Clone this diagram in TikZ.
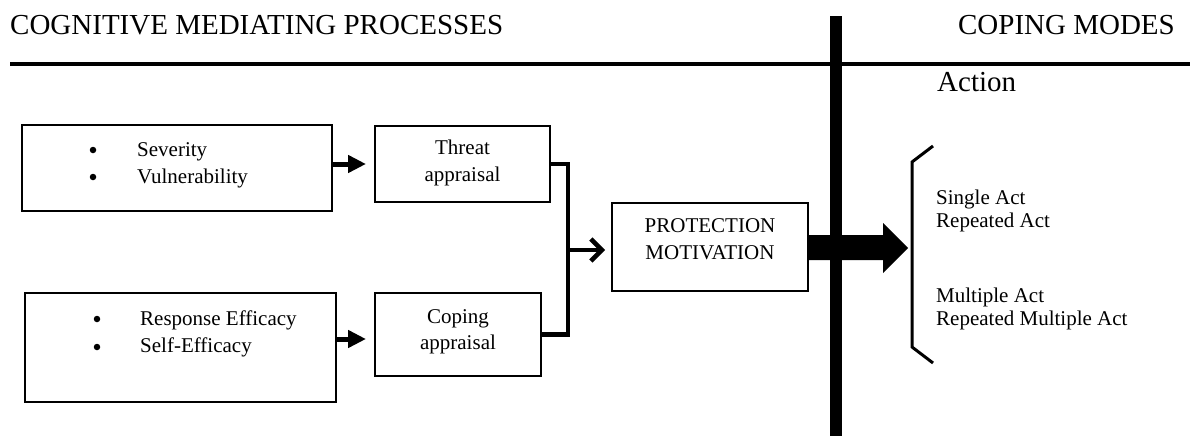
\documentclass[tikz,border=0pt]{standalone}
\usepackage{fontspec}
\setmainfont{Liberation Serif}
\usetikzlibrary{arrows.meta}
\begin{document}
\begin{tikzpicture}[x=1pt,y=-1pt,
  box/.style={draw, line width=2pt, inner sep=0pt, outer sep=0pt},
  body/.style={font=\fontsize{21}{27}\selectfont, inner sep=0pt, anchor=base},
  bodyw/.style={body, anchor=base west},
  head/.style={font=\fontsize{29}{34}\selectfont, inner sep=0pt},
  dot/.style={circle, fill, inner sep=0pt, minimum size=6.5pt},
  feed/.style={line width=5pt, -{Triangle[length=18pt,width=17pt]}, shorten >=9pt},
  link/.style={line width=4.5pt, line join=miter},
  mergearrow/.style={line width=4.5pt, -{Straight Barb[length=11pt,width=22pt]}, shorten >=7pt},
]
\useasboundingbox (0,0) rectangle (1190,436);

% headings and rules
\node[head, anchor=base west] (cmp) at (10,35) {COGNITIVE MEDIATING PROCESSES};
\node[head, anchor=base east] (cm) at (1175,35) {COPING MODES};
\draw[line width=3.5pt] (10,64) -- (1190,64);
\fill (830,16) rectangle (842,436);
\node[head, anchor=base west] (act) at (937,91) {Action};

% boxes
\node[box, minimum width=310pt, minimum height=86pt] (risk) at (177,168) {};
\node[box, minimum width=175pt, minimum height=76pt] (threat) at (462.5,164) {};
\node[box, minimum width=311pt, minimum height=109pt] (eff) at (180.5,347.5) {};
\node[box, minimum width=166pt, minimum height=83pt] (coping) at (458,334.5) {};
\node[box, minimum width=196pt, minimum height=88pt] (pm) at (710,247) {};

% box texts
\node[dot] (b1) at (93,150) {};
\node[dot] (b2) at (93,177) {};
\node[bodyw] (sev) at (137,156) {Severity};
\node[bodyw] (vul) at (137,183) {Vulnerability};
\node[dot] (b3) at (97,319) {};
\node[dot] (b4) at (97,347) {};
\node[bodyw] (re) at (140,325) {Response Efficacy};
\node[bodyw] (se) at (140,352) {Self-Efficacy};
\node[body] (t1) at (462.5,154) {Threat};
\node[body] (t2) at (462.5,181) {appraisal};
\node[body] (c1) at (458,323) {Coping};
\node[body] (c2) at (458,349) {appraisal};
\node[body] (p1) at (710,232) {PROTECTION};
\node[body] (p2) at (710,259) {MOTIVATION};

% coping modes list
\node[bodyw] (m1) at (936,204) {Single Act};
\node[bodyw] (m2) at (936,227) {Repeated Act};
\node[bodyw] (m3) at (936,302) {Multiple Act};
\node[bodyw] (m4) at (936,325) {Repeated Multiple Act};
\draw[line width=3pt] (933,146) -- (912,162) -- (912,347) -- (933,363);

% connectors
\draw[feed] (risk.east |- threat.west) -- (threat.west);
\coordinate (cin) at ([yshift=-4.5pt]coping.west);
\draw[feed] (eff.east |- cin) -- (cin);
\coordinate (j) at (568,250);
\draw[link] (threat.east) -| (j) |- (coping.east);
\draw[mergearrow] (j) -- (j -| pm.west);
\fill (pm.east |- 0,235) -- (883,235) -- (883,223) -- (908,248) -- (883,273) -- (883,260) -- (pm.east |- 0,260) -- cycle;
\end{tikzpicture}
\end{document}
